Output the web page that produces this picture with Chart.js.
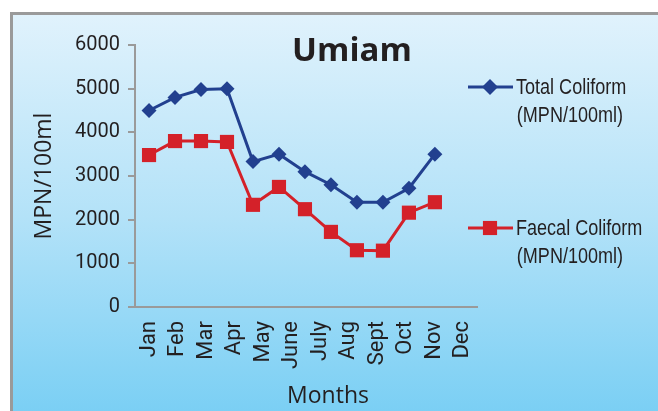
<!DOCTYPE html>
<html>
<head>
<meta charset="utf-8">
<script src="https://cdn.jsdelivr.net/npm/chart.js@4/dist/chart.umd.min.js"></script>
<style>
  html, body { margin: 0; padding: 0; background: #fff; overflow: hidden; }
  #frame {
    position: absolute; left: 10px; top: 12px; width: 700px; height: 450px;
    border: 3px solid #9a9a9a;
    background: linear-gradient(to bottom, #e0f2fc 0%, #b3e2f8 45%, #6bcaf3 100%);
  }
  #myLineChart { position: absolute; left: 0; top: 0; }
</style>
</head>
<body>
<div id="frame"></div>
<canvas id="myLineChart" width="658" height="411"></canvas>
<script>
// chart data
const months = ["Jan", "Feb", "Mar", "Apr", "May", "June", "July", "Aug", "Sept", "Oct", "Nov", "Dec"];
const totalColiform = [4500, 4800, 4980, 5000, 3330, 3500, 3100, 2800, 2400, 2400, 2720, 3500];
const faecalColiform = [3480, 3800, 3800, 3780, 2340, 2750, 2240, 1720, 1300, 1290, 2160, 2400];
const yTicks = [0, 1000, 2000, 3000, 4000, 5000, 6000];

const textColor = "#231f20";
const tickFont = "Roboto, 'Liberation Sans', sans-serif";
const wide = "'Open Sans', sans-serif";

// title, x axis title and the two-line legend on the right
const extras = {
    id: "extras",
    afterDraw(chart) {
        const ctx = chart.ctx;
        ctx.save();
        ctx.fillStyle = textColor;
        ctx.textBaseline = "middle";
        ctx.textAlign = "center";
        ctx.font = "bold 33px " + wide;
        ctx.fillText("Umiam", 352, 52);
        ctx.font = "23px " + wide;
        ctx.fillText("Months", 328, 396);

        const items = [
            { ds: chart.data.datasets[0], y: 87, lines: ["Total Coliform", "(MPN/100ml)"], r: 8 },
            { ds: chart.data.datasets[1], y: 228, lines: ["Faecal Coliform", "(MPN/100ml)"], r: 10 },
        ];
        items.forEach(function(it) {
            ctx.strokeStyle = it.ds.borderColor;
            ctx.lineWidth = 3;
            ctx.beginPath();
            ctx.moveTo(468, it.y);
            ctx.lineTo(513, it.y);
            ctx.stroke();
            ctx.fillStyle = it.ds.borderColor;
            Chart.helpers.drawPoint(ctx, { pointStyle: it.ds.pointStyle, radius: it.r, borderWidth: 0, rotation: 0 }, 490, it.y);
            // narrow look: squeeze the text horizontally
            ctx.save();
            ctx.fillStyle = textColor;
            ctx.textAlign = "left";
            ctx.font = "22px 'Liberation Sans', sans-serif";
            ctx.translate(516, 0);
            ctx.scale(0.82, 1);
            ctx.fillText(it.lines[0], 0, it.y + 1);
            ctx.fillText(it.lines[1], 1, it.y + 29);
            ctx.restore();
        });
        ctx.restore();
    }
};

const ctx = document.getElementById("myLineChart").getContext("2d");

new Chart(ctx, {
    type: "line",
    data: {
        datasets: [{
            label: "Total Coliform (MPN/100ml)",
            data: totalColiform.map((v, i) => ({ x: i, y: v })),
            xAxisID: "xd",
            borderColor: "#22408f",
            backgroundColor: "#22408f",
            borderWidth: 3,
            pointStyle: "rectRot",
            pointRadius: 7.5,
            pointBorderWidth: 0,
            tension: 0,
        }, {
            label: "Faecal Coliform (MPN/100ml)",
            data: faecalColiform.map((v, i) => ({ x: i, y: v })),
            xAxisID: "xd",
            borderColor: "#d42129",
            backgroundColor: "#d42129",
            borderWidth: 3,
            pointStyle: "rect",
            pointRadius: 10,
            pointBorderWidth: 0,
            tension: 0,
        }],
    },
    options: {
        responsive: false,
        animation: false,
        layout: { padding: { left: 31, top: 45, right: 181, bottom: 0 } },
        plugins: {
            legend: { display: false },
            tooltip: { enabled: false },
        },
        scales: {
            x: {
                type: "category",
                labels: months,
                position: "bottom",
                offset: true,
                grid: { display: false, drawTicks: false },
                border: { color: "#9a9a9a", width: 2 },
                ticks: {
                    autoSkip: false,
                    minRotation: 90, maxRotation: 90, padding: 14,
                    color: textColor, font: { family: tickFont, size: 22 },
                },
                afterFit: function(s) { s.height = 104; },
            },
            xd: {
                type: "linear",
                position: "bottom",
                display: false,
                min: -0.54,
                max: 12.62,
            },
            y: {
                min: 0,
                max: 6000,
                afterBuildTicks: function(s) { s.ticks = yTicks.map(v => ({ value: v })); },
                grid: { drawOnChartArea: false, tickLength: 7, color: "#9a9a9a", lineWidth: 2 },
                border: { color: "#9a9a9a", width: 2 },
                ticks: {
                    padding: 8, color: textColor, font: { family: tickFont, size: 20 },
                    callback: v => String(v),
                },
                title: {
                    display: true, text: "MPN/100ml", color: textColor,
                    font: { family: wide, size: 23 }, padding: 0,
                },
                afterFit: function(s) { s.width = 104; },
            },
        },
    },
    plugins: [extras],
});
</script>
</body>
</html>
